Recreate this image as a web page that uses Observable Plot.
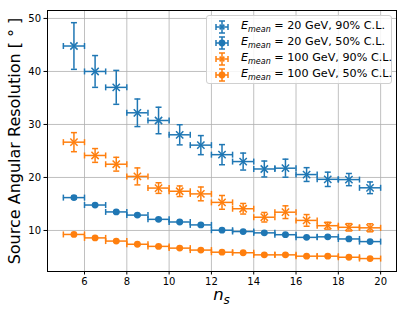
<!DOCTYPE html>
<html><head><meta charset="utf-8">
<script src="https://cdn.jsdelivr.net/npm/d3@7"></script>
<script src="https://cdn.jsdelivr.net/npm/@observablehq/plot@0.6"></script>
<style>
body{margin:0;background:#fff;font-family:"DejaVu Sans",sans-serif;}
#wrap{position:relative;width:407px;height:314px;}
#legend{position:absolute;left:206px;top:15px;width:184px;height:67px;border:1px solid #d0d0d0;border-radius:3px;background:rgba(255,255,255,0.85);font-size:11.2px;color:#000;}
.row{position:absolute;left:0;height:16px;display:flex;align-items:center;white-space:nowrap;}
.row svg{margin-left:6px;margin-right:10px;}
#xlabel{position:absolute;left:0;width:100%;top:285px;text-align:center;font-size:16.5px;font-style:italic;color:#000;padding-left:36px;box-sizing:border-box;}
#xlabel sub{font-size:12px;}
</style>
</head><body>
<div id="wrap"><div id="chart"></div><div id="legend"></div><div id="xlabel">n<sub>s</sub></div></div>
<script>
const ns = [5.5,6.5,7.5,8.5,9.5,10.5,11.5,12.5,13.5,14.5,15.5,16.5,17.5,18.5,19.5];
const nsErr = 0.5;
const blue90 = [44.8,40.0,37.0,32.2,30.75,28.05,26.1,24.3,23.0,21.6,21.75,20.55,19.65,19.6,18.05];
const blue90Err = [4.4,3.0,3.2,2.6,2.5,1.9,1.8,1.9,1.6,1.5,1.7,1.3,1.35,1.15,1.1];
const blue50 = [16.2,14.8,13.5,12.9,12.1,11.6,11.05,10.05,9.8,9.55,9.2,8.7,8.8,8.4,7.9];
const blue50Err = [0.25,0.2,0.2,0.2,0.2,0.2,0.2,0.2,0.15,0.15,0.15,0.15,0.15,0.15,0.15];
const orange90 = [26.66,24.15,22.5,20.2,18.0,17.4,16.9,15.3,14.1,12.5,13.45,11.9,10.9,10.6,10.5];
const orange90Err = [1.8,1.3,1.3,1.6,1.0,1.0,1.3,1.3,1.0,0.9,1.2,1.1,0.65,0.7,0.75];
const orange50 = [9.25,8.6,8.0,7.4,7.0,6.67,6.3,5.9,5.8,5.4,5.4,5.15,5.15,4.95,4.7];
const orange50Err = [0.15,0.15,0.15,0.15,0.15,0.15,0.15,0.15,0.15,0.15,0.15,0.15,0.15,0.15,0.15];
const xTicks = [6,8,10,12,14,16,18,20];
const yTicks = [10,20,30,40,50];
const seriesNames = ["20 GeV, 90% C.L.","20 GeV, 50% C.L.","100 GeV, 90% C.L.","100 GeV, 50% C.L."];
const colors = ["#1f77b4","#1f77b4","#ff7f0e","#ff7f0e"];
const markers = ["times","circle","times","circle"];

const ys = [blue90, blue50, orange90, orange50];
const es = [blue90Err, blue50Err, orange90Err, orange50Err];

const hcap = {draw(ctx, size){const r=Math.sqrt(size/Math.PI); ctx.moveTo(-r,0); ctx.lineTo(r,0);}};
const vcap = {draw(ctx, size){const r=Math.sqrt(size/Math.PI); ctx.moveTo(0,-r); ctx.lineTo(0,r);}};

const marks = [
  Plot.gridX(xTicks, {stroke:"#b0b0b0", strokeOpacity:1, strokeWidth:0.8}),
  Plot.gridY(yTicks, {stroke:"#b0b0b0", strokeOpacity:1, strokeWidth:0.8}),
];
ys.forEach((vals, s) => {
  const data = ns.map((x,i)=>({x, y: vals[i], e: es[s][i]}));
  const c = colors[s];
  marks.push(
    Plot.ruleX(data, {x:"x", y1:d=>d.y-d.e, y2:d=>d.y+d.e, stroke:c, strokeWidth:1.5}),
    Plot.ruleY(data, {y:"y", x1:d=>d.x-nsErr, x2:d=>d.x+nsErr, stroke:c, strokeWidth:1.5}),
    Plot.dot(data, {x:"x", y:d=>d.y-d.e, symbol:hcap, r:3, stroke:c, strokeWidth:1.5}),
    Plot.dot(data, {x:"x", y:d=>d.y+d.e, symbol:hcap, r:3, stroke:c, strokeWidth:1.5}),
    Plot.dot(data, {x:d=>d.x-nsErr, y:"y", symbol:vcap, r:3, stroke:c, strokeWidth:1.5}),
    Plot.dot(data, {x:d=>d.x+nsErr, y:"y", symbol:vcap, r:3, stroke:c, strokeWidth:1.5}),
    markers[s]==="circle"
      ? Plot.dot(data, {x:"x", y:"y", r:3.4, fill:c, stroke:"none"})
      : Plot.dot(data, {x:"x", y:"y", symbol:"times", r:3.4, stroke:c, strokeWidth:1.5})
  );
});
marks.push(
  Plot.frame({stroke:"#000", strokeWidth:1}),
  Plot.axisX(xTicks, {tickSize:3.5, tickPadding:3, fontSize:10, label:null, stroke:"#000"}),
  Plot.axisY(yTicks, {tickSize:3.5, tickPadding:3, fontSize:10, label:null, stroke:"#000"}),
  Plot.text(["Source Angular Resolution [ ° ]"], {frameAnchor:"left", textAnchor:"middle", rotate:-90, dx:-33, fontSize:16, fill:"#000"})
);

const chart = Plot.plot({
  width:407, height:314,
  marginLeft:47, marginRight:11, marginTop:10, marginBottom:43,
  style:{fontFamily:"DejaVu Sans", fontSize:"10px", color:"#000", background:"#fff"},
  x:{domain:[4.25,20.75]},
  y:{domain:[2.26,51.5]},
  marks
});
document.getElementById("chart").appendChild(chart);

const leg = d3.select("#legend");
seriesNames.forEach((name, s) => {
  const row = leg.append("div").attr("class","row").style("top", (3 + s*15.9) + "px");
  const svg = row.append("svg").attr("width",18).attr("height",14);
  const g = svg.append("g").attr("transform","translate(9,7)").attr("stroke",colors[s]).attr("stroke-width",1.5);
  g.append("line").attr("x1",-6).attr("x2",6);
  g.append("line").attr("y1",-6).attr("y2",6);
  g.append("line").attr("x1",-6).attr("x2",-6).attr("y1",-3).attr("y2",3);
  g.append("line").attr("x1",6).attr("x2",6).attr("y1",-3).attr("y2",3);
  g.append("line").attr("x1",-3).attr("x2",3).attr("y1",-6).attr("y2",-6);
  g.append("line").attr("x1",-3).attr("x2",3).attr("y1",6).attr("y2",6);
  if (markers[s]==="circle") g.append("circle").attr("r",3.4).attr("fill",colors[s]).attr("stroke","none");
  else g.append("path").attr("d","M-2.4,-2.4L2.4,2.4M-2.4,2.4L2.4,-2.4");
  const t = row.append("span");
  t.append("i").text("E");
  t.append("sub").style("font-style","italic").style("font-size","8px").text("mean");
  t.append("span").text(" = " + name);
});
</script>
</body></html>
